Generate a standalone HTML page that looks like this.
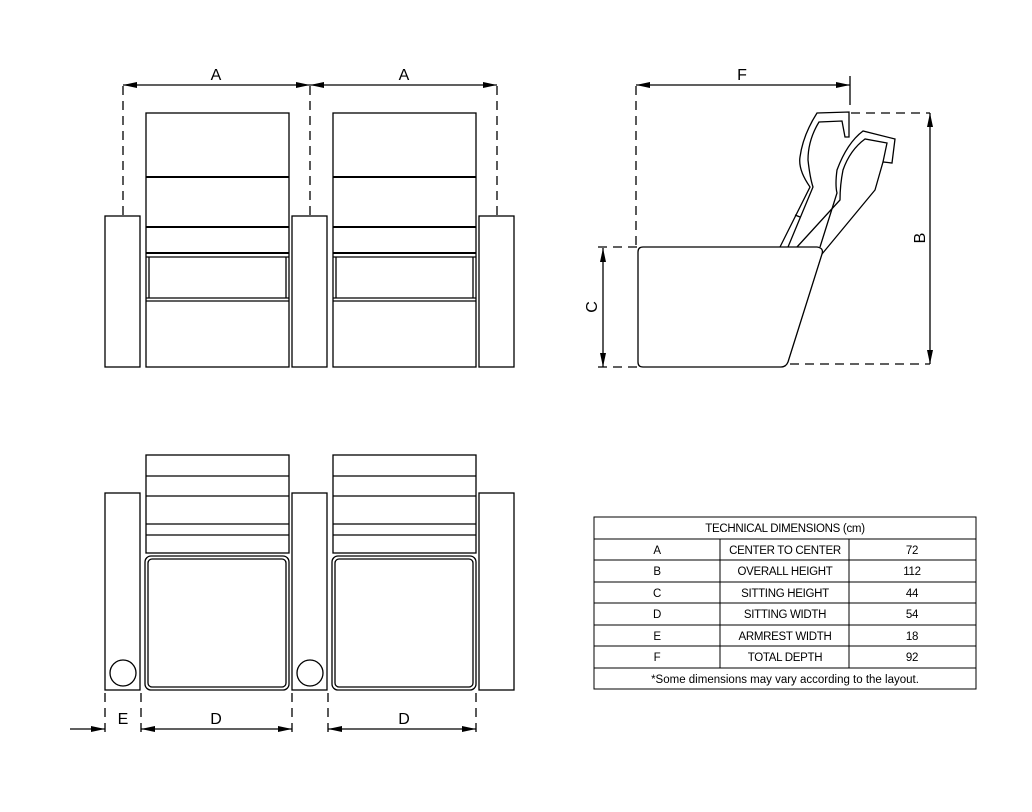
<!DOCTYPE html>
<html><head><meta charset="utf-8"><style>
html,body{margin:0;padding:0;background:#fff;}
svg{display:block}
text{font-family:"Liberation Sans",sans-serif;}
</style></head><body>
<svg width="1032" height="812" viewBox="0 0 1032 812" xmlns="http://www.w3.org/2000/svg">
<defs>
<marker id="ar" markerWidth="14" markerHeight="6" refX="14" refY="3" orient="auto" markerUnits="userSpaceOnUse"><path d="M0,0 L14,3 L0,6 Z" fill="#000"/></marker>
<marker id="al" markerWidth="14" markerHeight="6" refX="0" refY="3" orient="auto" markerUnits="userSpaceOnUse"><path d="M14,0 L0,3 L14,6 Z" fill="#000"/></marker>
</defs>
<g fill="none" stroke="#000" stroke-width="1.3">
<!-- FRONT VIEW -->
<rect x="105" y="216" width="35" height="151"/>
<rect x="292" y="216" width="35" height="151"/>
<rect x="479" y="216" width="35" height="151"/>
<g id="fs">
<rect x="146" y="113" width="143" height="254"/>
<line x1="146" y1="177" x2="289" y2="177" stroke-width="2"/>
<line x1="146" y1="227" x2="289" y2="227" stroke-width="2"/>
<line x1="146" y1="253" x2="289" y2="253" stroke-width="2"/>
<line x1="146" y1="257" x2="289" y2="257"/>
<line x1="149" y1="257" x2="149" y2="298"/>
<line x1="286" y1="257" x2="286" y2="298"/>
<line x1="146" y1="298" x2="289" y2="298"/>
<line x1="146" y1="301" x2="289" y2="301"/>
</g>
<use href="#fs" x="187"/>
<g stroke-dasharray="9,6">
<line x1="123" y1="86" x2="123" y2="216"/>
<line x1="310" y1="86" x2="310" y2="216"/>
<line x1="497" y1="86" x2="497" y2="216"/>
</g>
<line x1="123" y1="85" x2="310" y2="85" marker-start="url(#al)" marker-end="url(#ar)"/>
<line x1="310" y1="85" x2="497" y2="85" marker-start="url(#al)" marker-end="url(#ar)"/>

<!-- SIDE VIEW -->
<path d="M643,247 L817,247 Q824,248 822,254 L788,362 Q786,367 781,367 L643,367 Q638,367 638,362 L638,252 Q638,247 643,247 Z"/>
<path d="M822,254 L875,190 L883,162 L892,163 L895,139 L863,131 Q847,143 837,170 Q835,185 837,193 L820,247"/>
<path d="M797,247 L840,200 Q840,185 843,170 Q850,150 865,139 L887,143 L883,162"/>
<path d="M780,247 L810,187 Q798,170 800,157 Q803,135 817,113 L849,112 L849,137 L845,137 L842,121 L819,122 Q808,140 808,160 Q810,178 813,187 L788,247"/>
<line x1="795" y1="215" x2="800" y2="217"/>
<g stroke-dasharray="9,6">
<line x1="636" y1="86" x2="636" y2="247"/>
<line x1="598" y1="247" x2="638" y2="247"/>
<line x1="598" y1="367" x2="638" y2="367"/>
<line x1="851" y1="113" x2="930" y2="113"/>
<line x1="790" y1="364" x2="930" y2="364"/>
</g>
<line x1="636" y1="85" x2="850" y2="85" marker-start="url(#al)" marker-end="url(#ar)"/>
<line x1="850" y1="76" x2="850" y2="105"/>
<line x1="930" y1="113" x2="930" y2="364" marker-start="url(#al)" marker-end="url(#ar)"/>
<line x1="603" y1="248" x2="603" y2="367" marker-start="url(#al)" marker-end="url(#ar)"/>

<!-- TOP VIEW -->
<rect x="105" y="493" width="35" height="197"/>
<rect x="292" y="493" width="35" height="197"/>
<rect x="479" y="493" width="35" height="197"/>
<circle cx="123" cy="673" r="13"/>
<circle cx="310" cy="673" r="13"/>
<g id="ts">
<rect x="146" y="455" width="143" height="98"/>
<line x1="146" y1="476" x2="289" y2="476"/>
<line x1="146" y1="496" x2="289" y2="496"/>
<line x1="146" y1="524" x2="289" y2="524"/>
<line x1="146" y1="535" x2="289" y2="535"/>
<rect x="145" y="556" width="144" height="134" rx="6"/>
<rect x="148" y="559" width="138" height="128" rx="4"/>
</g>
<use href="#ts" x="187"/>
<g stroke-dasharray="9,6">
<line x1="105" y1="693" x2="105" y2="736"/>
<line x1="141" y1="693" x2="141" y2="736"/>
<line x1="292" y1="693" x2="292" y2="736"/>
<line x1="328" y1="693" x2="328" y2="736"/>
<line x1="476" y1="693" x2="476" y2="736"/>
</g>
<line x1="70" y1="729" x2="105" y2="729" marker-end="url(#ar)"/>
<line x1="141" y1="729" x2="292" y2="729" marker-start="url(#al)" marker-end="url(#ar)"/>
<line x1="328" y1="729" x2="476" y2="729" marker-start="url(#al)" marker-end="url(#ar)"/>

<!-- TABLE -->
<rect x="594" y="517" width="382" height="172" stroke-width="1"/>
<g stroke-width="1">
<line x1="594" y1="539" x2="976" y2="539"/>
<line x1="594" y1="560" x2="976" y2="560"/>
<line x1="594" y1="582" x2="976" y2="582"/>
<line x1="594" y1="603" x2="976" y2="603"/>
<line x1="594" y1="625" x2="976" y2="625"/>
<line x1="594" y1="646" x2="976" y2="646"/>
<line x1="594" y1="668" x2="976" y2="668"/>
<line x1="720" y1="539" x2="720" y2="668"/>
<line x1="849" y1="539" x2="849" y2="668"/>
</g>
</g>
<g font-size="16" text-anchor="middle" fill="#000">
<text x="216" y="80">A</text>
<text x="404" y="80">A</text>
<text x="742" y="80">F</text>
<text x="123" y="724">E</text>
<text x="216" y="724">D</text>
<text x="404" y="724">D</text>
<text transform="translate(597,307) rotate(-90)">C</text>
<text transform="translate(925,238) rotate(-90)">B</text>
</g>
<g font-size="11.5" text-anchor="middle" fill="#000" letter-spacing="-0.3">
<text x="785" y="532">TECHNICAL DIMENSIONS (cm)</text>
<text x="657" y="554">A</text><text x="785" y="554">CENTER TO CENTER</text><text x="912" y="554">72</text>
<text x="657" y="575">B</text><text x="785" y="575">OVERALL HEIGHT</text><text x="912" y="575">112</text>
<text x="657" y="597">C</text><text x="785" y="597">SITTING HEIGHT</text><text x="912" y="597">44</text>
<text x="657" y="618">D</text><text x="785" y="618">SITTING WIDTH</text><text x="912" y="618">54</text>
<text x="657" y="640">E</text><text x="785" y="640">ARMREST WIDTH</text><text x="912" y="640">18</text>
<text x="657" y="661">F</text><text x="785" y="661">TOTAL DEPTH</text><text x="912" y="661">92</text>
<text x="785" y="683" letter-spacing="0">*Some dimensions may vary according to the layout.</text>
</g>
</svg>
</body></html>
